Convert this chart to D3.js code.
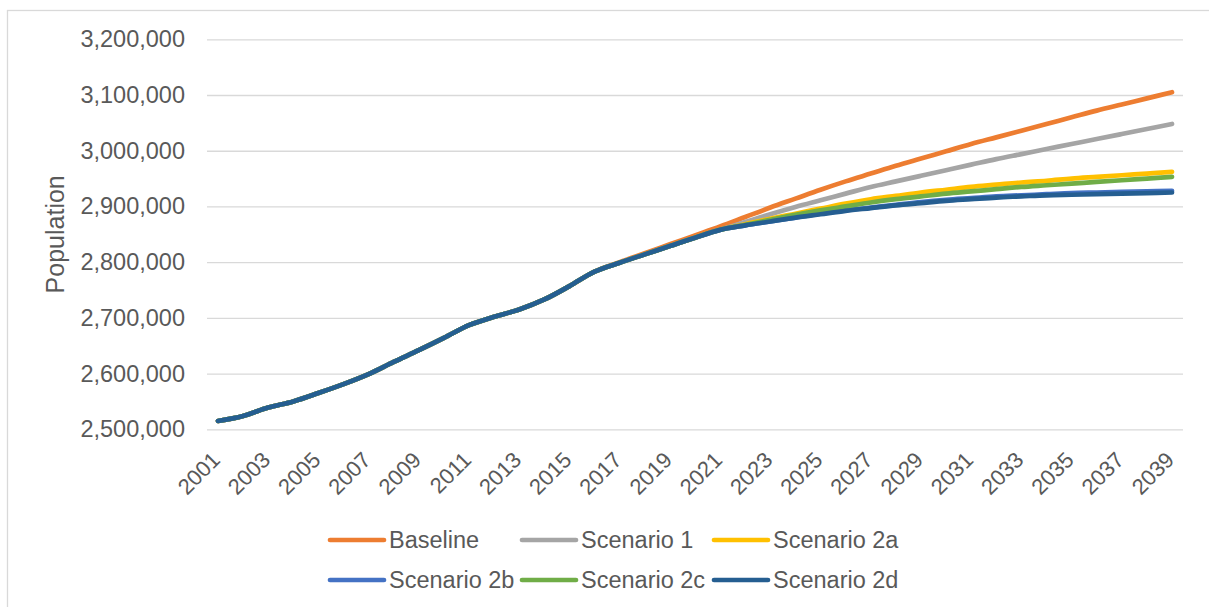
<!DOCTYPE html>
<html>
<head>
<meta charset="utf-8">
<script src="https://cdn.jsdelivr.net/npm/d3@7"></script>
<style>
  body { margin: 0; background: #fff; }
  svg { display: block; font-family: "Liberation Sans", Arial, sans-serif; }
</style>
</head>
<body>
<div id="chart"></div>
<script>
// ---------------- DATA ----------------
const years = d3.range(2001, 2040);

// observed population 2001-2021 (shared by every scenario)
const observed = [2515000, 2524000, 2539000, 2550000, 2565000, 2581000, 2599000, 2621000,
  2642000, 2664000, 2687000, 2702000, 2715000, 2733000, 2757000, 2783000,
  2799000, 2814000, 2829000, 2844000, 2858000];

// baseline leaves the observed line from 2017
const baseline = [2800000, 2816000, 2832000, 2848000, 2864000, 2881000, 2898000, 2914000,
  2930000, 2945000, 2959000, 2973000, 2986000, 2999000, 3012000, 3024000, 3036000,
  3048000, 3060000, 3072000, 3083000, 3094000, 3105000];

// scenario projections 2022-2039
const scenario1  = [2872000, 2886000, 2899000, 2911000, 2923000, 2935000, 2945000, 2955000, 2965000,
  2975000, 2985000, 2994000, 3003000, 3012000, 3021000, 3030000, 3039000, 3048000];
const scenario2a = [2868000, 2878000, 2887000, 2896000, 2905000, 2913000, 2919000, 2925000, 2930000,
  2935000, 2939000, 2943000, 2946000, 2950000, 2953000, 2956000, 2959000, 2962000];
const scenario2b = [2866000, 2873000, 2880000, 2887000, 2893000, 2898000, 2903000, 2908000, 2912000,
  2915000, 2918000, 2920000, 2922000, 2924000, 2925000, 2926000, 2927000, 2928000];
const scenario2c = [2867000, 2876000, 2885000, 2893000, 2900000, 2907000, 2913000, 2918000, 2923000,
  2927000, 2931000, 2935000, 2938000, 2941000, 2944000, 2947000, 2950000, 2953000];
const scenario2d = [2866000, 2873000, 2880000, 2886000, 2892000, 2897000, 2902000, 2906000, 2910000,
  2913000, 2916000, 2918000, 2920000, 2921000, 2922000, 2923000, 2924000, 2925000];

const seriesNames = ["Baseline", "Scenario 1", "Scenario 2a", "Scenario 2b", "Scenario 2c", "Scenario 2d"];
const seriesColors = ["#ED7D31", "#A5A5A5", "#FFC000", "#4472C4", "#70AD47", "#255E91"];
const yTicks = [2500000, 2600000, 2700000, 2800000, 2900000, 3000000, 3100000, 3200000];
const xTickYears = years.filter(y => y % 2 === 1);

const seriesValues = [
  observed.slice(0, 16).concat(baseline),
  observed.concat(scenario1),
  observed.concat(scenario2a),
  observed.concat(scenario2b),
  observed.concat(scenario2c),
  observed.concat(scenario2d)
];

const series = seriesNames.map((name, i) => ({
  name,
  color: seriesColors[i],
  values: years.map((yr, j) => ({ year: yr, value: seriesValues[i][j] }))
}));

// ---------------- LAYOUT ----------------
const width = 1209, height = 607;
const plot = { left: 207, right: 1183, top: 39.3, bottom: 429.3 };
const textColor = "#595959";
const gridColor = "#D9D9D9";

const svg = d3.select("#chart").append("svg")
  .attr("width", width)
  .attr("height", height);

// chart frame
svg.append("rect")
  .attr("x", 7.5).attr("y", 10.5)
  .attr("width", 1215).attr("height", 620)
  .attr("fill", "none")
  .attr("stroke", gridColor)
  .attr("stroke-width", 1.3);

const x = d3.scalePoint().domain(years).range([218, 1172]);
const y = d3.scaleLinear().domain([2500000, 3200000]).range([plot.bottom, plot.top]);

// ---------------- AXES ----------------
const yAxis = svg.append("g")
  .attr("transform", `translate(${plot.left},0)`)
  .call(d3.axisLeft(y)
    .tickValues(yTicks)
    .tickSize(-(plot.right - plot.left))
    .tickPadding(22)
    .tickFormat(d3.format(",")));
yAxis.select(".domain").remove();
yAxis.selectAll(".tick line")
  .attr("stroke", gridColor)
  .attr("stroke-width", 1.3);
yAxis.selectAll(".tick text")
  .attr("fill", textColor)
  .style("font-size", "23.5px");

const xAxis = svg.append("g")
  .attr("transform", `translate(0,${plot.bottom})`)
  .call(d3.axisBottom(x).tickValues(xTickYears).tickSize(0).tickPadding(0));
xAxis.select(".domain").remove();
xAxis.selectAll(".tick text")
  .attr("fill", textColor)
  .style("font-size", "22px")
  .attr("text-anchor", "end")
  .attr("dy", null)
  .attr("y", 0)
  .attr("transform", "translate(3,32) rotate(-45)");

svg.append("text")
  .attr("transform", `translate(64,${(plot.top + plot.bottom) / 2}) rotate(-90)`)
  .attr("text-anchor", "middle")
  .attr("fill", textColor)
  .style("font-size", "25px")
  .text("Population");

// ---------------- LINES ----------------
const line = d3.line()
  .x(d => x(d.year))
  .y(d => y(d.value))
  .curve(d3.curveCatmullRom.alpha(0.5));

svg.append("g").selectAll("path")
  .data(series)
  .enter()
  .append("path")
  .attr("d", d => line(d.values))
  .attr("fill", "none")
  .attr("stroke", d => d.color)
  .attr("stroke-width", 4.7)
  .attr("stroke-linecap", "round")
  .attr("stroke-linejoin", "round");

// ---------------- LEGEND ----------------
const legendCols = [330, 522, 714];
const legendRows = [540, 580];

const legend = svg.append("g").selectAll("g")
  .data(series)
  .enter()
  .append("g")
  .attr("transform", (d, i) => `translate(${legendCols[i % 3]},${legendRows[Math.floor(i / 3)]})`);

legend.append("line")
  .attr("x1", 0).attr("x2", 54)
  .attr("stroke", d => d.color)
  .attr("stroke-width", 4.7)
  .attr("stroke-linecap", "round");

legend.append("text")
  .attr("x", 59)
  .attr("dy", "0.35em")
  .attr("fill", textColor)
  .style("font-size", "23.5px")
  .text(d => d.name);
</script>
</body>
</html>
